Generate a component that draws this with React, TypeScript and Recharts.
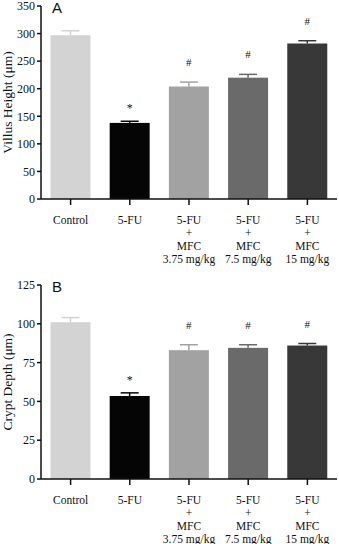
import React from 'react';
import { BarChart, Bar, XAxis, YAxis, Cell, Customized } from 'recharts';

const groups = ['Control', '5-FU', '5-FU+MFC 3.75', '5-FU+MFC 7.5', '5-FU+MFC 15'];
const tickLines = [
  ['Control'],
  ['5-FU'],
  ['5-FU', '+', 'MFC', '3.75 mg/kg'],
  ['5-FU', '+', 'MFC', '7.5 mg/kg'],
  ['5-FU', '+', 'MFC', '15 mg/kg'],
];
const barColors = ['#d3d3d3', '#050505', '#a2a2a2', '#6a6a6a', '#383838'];
const marks = ['', '*', '#', '#', '#'];

const villusHeight = [297, 138, 204, 220, 282];
const villusErr = [8, 3, 8, 6, 5];
const villusTicks = [0, 50, 100, 150, 200, 250, 300, 350];

const cryptDepth = [101, 53.5, 83, 84.5, 86];
const cryptErr = [3, 2, 3.5, 2, 1.3];
const cryptTicks = [0, 25, 50, 75, 100, 125];

const serif = '"Liberation Serif", "Times New Roman", serif';
const sans = '"Liberation Sans", Arial, sans-serif';

const makeData = (values: number[], errs: number[]) =>
  groups.map((g, i) => ({ group: g, value: values[i], err: errs[i], mark: marks[i], idx: i }));

const BarWithError = (props: any) => {
  const { x, y, width, height, payload, fill } = props;
  const pxPerUnit = height / payload.value;
  const top = y - payload.err * pxPerUnit;
  const cx = x + width / 2;
  const isStar = payload.mark === '*';
  return (
    <g>
      <rect x={x} y={y} width={width} height={height} fill={fill} />
      <line x1={cx} x2={cx} y1={y} y2={top} stroke={fill} strokeWidth={1.5} />
      <line x1={cx - 9} x2={cx + 9} y1={top} y2={top} stroke={fill} strokeWidth={1.5} />
      {payload.mark && (
        <text
          x={cx}
          y={top - (isStar ? 9 : 16)}
          textAnchor="middle"
          fontFamily={serif}
          fontSize={isStar ? 12 : 11}
          fill="#111"
        >
          {payload.mark}
        </text>
      )}
    </g>
  );
};

const MultiLineTick = (props: any) => {
  const { x, y, payload, index } = props;
  const lines = tickLines[index] || [payload.value];
  return (
    <g>
      {lines.map((l: string, i: number) => (
        <text
          key={i}
          x={x}
          y={y + 17 + i * 13}
          textAnchor="middle"
          fontFamily={serif}
          fontSize={11.5}
          fill="#111"
        >
          {l}
        </text>
      ))}
    </g>
  );
};

interface PanelProps {
  values: number[];
  errs: number[];
  ticks: number[];
  max: number;
  title: string;
  letter: string;
  top: number;
  height: number;
  marginTop: number;
  axisHeight: number;
}

const Panel: React.FC<PanelProps> = ({ values, errs, ticks, max, title, letter, top, height, marginTop, axisHeight }) => {
  const data = makeData(values, errs);
  return (
    <div style={{ position: 'absolute', left: 0, top }}>
      <BarChart
        width={339}
        height={height}
        data={data}
        margin={{ top: marginTop, right: 2, left: 0, bottom: 0 }}
        barCategoryGap="16%"
      >
        <XAxis
          dataKey="group"
          height={axisHeight}
          interval={0}
          tick={<MultiLineTick />}
          tickSize={6}
          axisLine={{ stroke: '#111', strokeWidth: 1.5 }}
          tickLine={{ stroke: '#111', strokeWidth: 1.5 }}
        />
        <YAxis
          width={41}
          domain={[0, max]}
          ticks={ticks}
          interval={0}
          tickSize={4}
          axisLine={{ stroke: '#111', strokeWidth: 1.5 }}
          tickLine={{ stroke: '#111', strokeWidth: 1.5 }}
          tick={{ fill: '#111', fontSize: 12, fontFamily: serif }}
          label={{
            value: title,
            angle: -90,
            position: 'insideLeft',
            offset: 7,
            style: { textAnchor: 'middle', fontFamily: serif, fontSize: 13.5, fill: '#111' },
          }}
        />
        <Bar dataKey="value" isAnimationActive={false} shape={<BarWithError />}>
          {data.map((d, i) => (
            <Cell key={`cell-${i}`} fill={barColors[i]} />
          ))}
        </Bar>
        <Customized
          component={() => (
            <text x={52} y={marginTop + 7} fontFamily={sans} fontSize={15} fill="#111">
              {letter}
            </text>
          )}
        />
      </BarChart>
    </div>
  );
};

export default function App() {
  return (
    <div style={{ position: 'absolute', left: 0, top: 0, width: 339, height: 544, background: '#fff' }}>
      <Panel
        values={villusHeight}
        errs={villusErr}
        ticks={villusTicks}
        max={350}
        title="Villus Height (μm)"
        letter="A"
        top={0}
        height={272}
        marginTop={6}
        axisHeight={73}
      />
      <Panel
        values={cryptDepth}
        errs={cryptErr}
        ticks={cryptTicks}
        max={125}
        title="Crypt Depth (μm)"
        letter="B"
        top={272}
        height={272}
        marginTop={13}
        axisHeight={65}
      />
    </div>
  );
}
